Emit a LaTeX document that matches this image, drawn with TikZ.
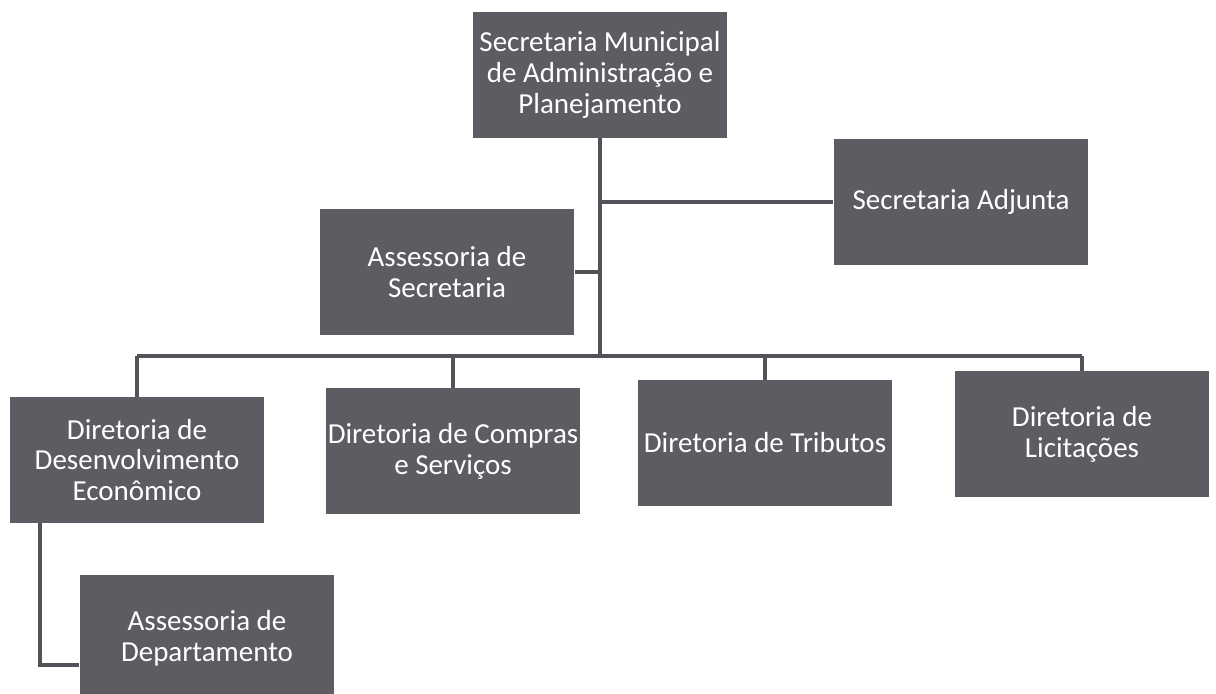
\documentclass[tikz,border=0pt]{standalone}
\usepackage{fontspec}
\setmainfont{Carlito}
\usetikzlibrary{positioning}
\definecolor{boxgray}{RGB}{92,92,98}
\definecolor{linegray}{RGB}{82,82,88}
\tikzset{
  orgbox/.style={rectangle, fill=boxgray, text=white, minimum width=5.1cm, minimum height=2.52cm,
    inner sep=0pt, align=center, font=\fontsize{16.5}{17.5}\selectfont},
  link/.style={draw=linegray, line width=2.6pt},
}

\begin{document}
\begin{tikzpicture}[x=0.02cm, y=-0.02cm]
  \useasboundingbox (0,0) rectangle (1216,693);

  % top level
  \node[orgbox] (sec) at (600,75) {Secretaria Municipal\\de Administração e\\Planejamento};
  \node[orgbox] (adj) at (961,202) {Secretaria Adjunta};
  \node[orgbox] (ass) at (447,272) {Assessoria de\\Secretaria};

  % directorates
  \node[orgbox] (dev) at (137,460) {Diretoria de\\Desenvolvimento\\Econômico};
  \node[orgbox] (com) at (453,451) {Diretoria de Compras\\e Serviços};
  \node[orgbox] (tri) at (765,443) {Diretoria de Tributos};
  \node[orgbox] (lic) at (1082,434) {Diretoria de\\Licitações};
  \node[orgbox] (dep) at (207,638) {Assessoria de\\Departamento};

  % connectors
  \coordinate (bus) at (0,356);
  \coordinate (elbow) at (40,665);
  \draw[link] (sec.south) -- (sec.south |- bus);
  \draw[link] (sec.south |- adj.west) -- (adj.west);
  \draw[link] (ass.east) -- (ass.east -| sec.south);
  \draw[link] (dev.north |- bus) -- (lic.north |- bus);
  \foreach \d in {dev,com,tri,lic}
    \draw[link] (\d.north |- bus) -- (\d.north);
  \draw[link] (dev.south -| elbow) -- (elbow) -- (dep.west |- elbow);
\end{tikzpicture}
\end{document}
